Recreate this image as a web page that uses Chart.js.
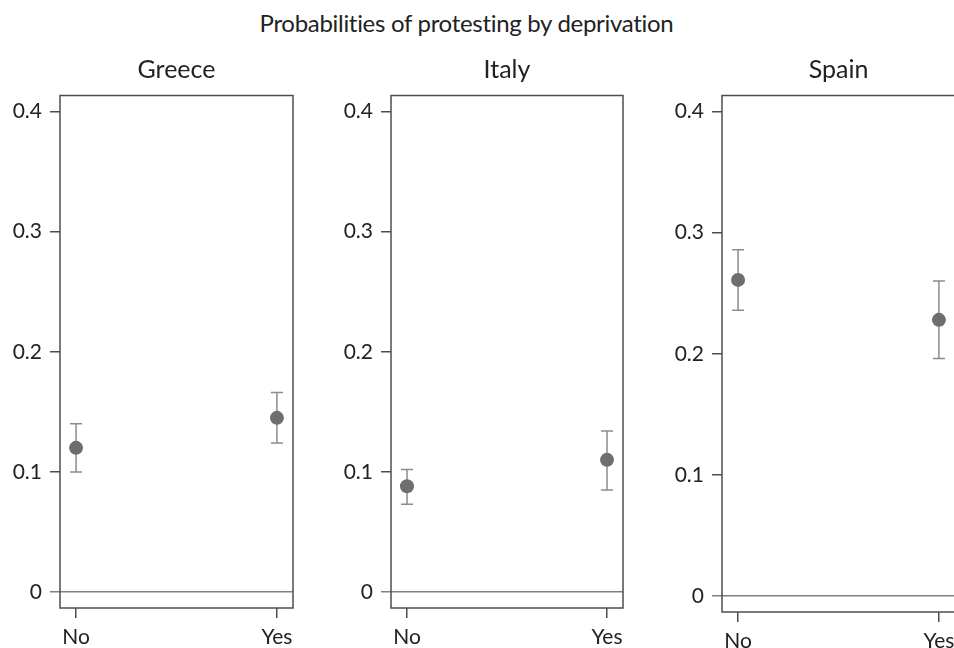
<!DOCTYPE html>
<html>
<head>
<meta charset="utf-8">
<script src="https://cdn.jsdelivr.net/npm/chart.js@4.4.0/dist/chart.umd.min.js"></script>
<style>
  html, body { margin: 0; padding: 0; background: #fff; overflow: hidden; }
  body { width: 954px; height: 648px; position: relative; font-family: Lato, sans-serif; }
  #title { position: absolute; left: 0; top: 8px; width: 933px; text-align: center;
           font-size: 24px; letter-spacing: -0.3px; line-height: 30px; color: #222; }
  canvas { position: absolute; top: 0; }
</style>
</head>
<body>
<div id="title">Probabilities of protesting by deprivation</div>
<canvas id="greece" width="300" height="648" style="left:0px"></canvas>
<canvas id="italy" width="299" height="648" style="left:331px"></canvas>
<canvas id="spain" width="300" height="648" style="left:662px"></canvas>
<script>
const categories = ['No', 'Yes'];
const yTicks = [0, 0.1, 0.2, 0.3, 0.4];

const greeceProb = [0.120, 0.145];
const greeceLow  = [0.100, 0.124];
const greeceHigh = [0.140, 0.166];

const italyProb = [0.088, 0.110];
const italyLow  = [0.073, 0.085];
const italyHigh = [0.102, 0.134];

const spainProb = [0.261, 0.228];
const spainLow  = [0.236, 0.196];
const spainHigh = [0.286, 0.260];

const dark = '#4d4d4d';
const zeroGray = '#808080';

// whiskers with caps, drawn under the dots
function errorBars(low, high) {
  return {
    id: 'errorBars',
    beforeDatasetsDraw(chart) {
      const { ctx, scales: { x, y } } = chart;
      ctx.save();
      ctx.strokeStyle = '#8c8c8c';
      ctx.lineWidth = 1.5;
      low.forEach((lo, i) => {
        const px = x.getPixelForValue(i);
        const top = y.getPixelForValue(high[i]);
        const bot = y.getPixelForValue(lo);
        ctx.beginPath();
        ctx.moveTo(px, top); ctx.lineTo(px, bot);
        ctx.moveTo(px - 6, top); ctx.lineTo(px + 6, top);
        ctx.moveTo(px - 6, bot); ctx.lineTo(px + 6, bot);
        ctx.stroke();
      });
      ctx.restore();
    }
  };
}

const frame = {
  id: 'frame',
  afterDraw(chart) {
    const { ctx, chartArea: a } = chart;
    ctx.save();
    ctx.strokeStyle = dark;
    ctx.lineWidth = 1.5;
    ctx.strokeRect(a.left, a.top, a.right - a.left, a.bottom - a.top);
    ctx.restore();
  }
};

function panel(id, name, prob, low, high, xAxisHeight) {
  new Chart(document.getElementById(id), {
    type: 'scatter',
    data: {
      datasets: [{
        data: categories.map((c, i) => ({ x: i, y: prob[i] })),
        backgroundColor: '#6e6e6e',
        borderWidth: 0,
        pointRadius: 7,
        pointHoverRadius: 7
      }]
    },
    options: {
      responsive: false,
      animation: false,
      layout: { padding: { left: 0, right: 6, top: 0, bottom: 0 } },
      plugins: {
        legend: { display: false },
        tooltip: { enabled: false },
        title: {
          display: true,
          text: name,
          fullSize: false,
          color: '#222',
          font: { family: 'Lato', size: 25, weight: 'normal' },
          padding: { top: 55, bottom: 10.5 }
        }
      },
      scales: {
        x: {
          type: 'linear',
          min: -0.08,
          max: 1.08,
          afterBuildTicks: s => { s.ticks = categories.map((c, i) => ({ value: i })); },
          afterFit: s => { s.height = xAxisHeight; },
          border: { display: false },
          grid: { drawOnChartArea: false, drawTicks: true, tickLength: 10, color: dark, lineWidth: 1.5 },
          ticks: {
            callback: v => categories[v],
            color: '#222',
            padding: 7,
            maxRotation: 0,
            font: { family: 'Lato', size: 21 }
          }
        },
        y: {
          min: -0.0133,
          max: 0.4133,
          afterBuildTicks: s => { s.ticks = yTicks.map(v => ({ value: v })); },
          afterFit: s => { s.width = 60; },
          border: { display: false },
          grid: {
            drawTicks: true,
            tickLength: 10,
            lineWidth: 1.5,
            color: c => (c.tick && c.tick.value === 0) ? zeroGray : 'rgba(0,0,0,0)',
            tickColor: c => (c.tick && c.tick.value === 0) ? zeroGray : dark
          },
          ticks: {
            callback: v => v === 0 ? '0' : v.toFixed(1),
            color: '#222',
            padding: 8,
            font: { family: 'Lato', size: 21 }
          }
        }
      }
    },
    plugins: [errorBars(low, high), frame]
  });
}

panel('greece', 'Greece', greeceProb, greeceLow, greeceHigh, 40);
panel('italy', 'Italy', italyProb, italyLow, italyHigh, 40);
panel('spain', 'Spain', spainProb, spainLow, spainHigh, 36);
</script>
</body>
</html>
